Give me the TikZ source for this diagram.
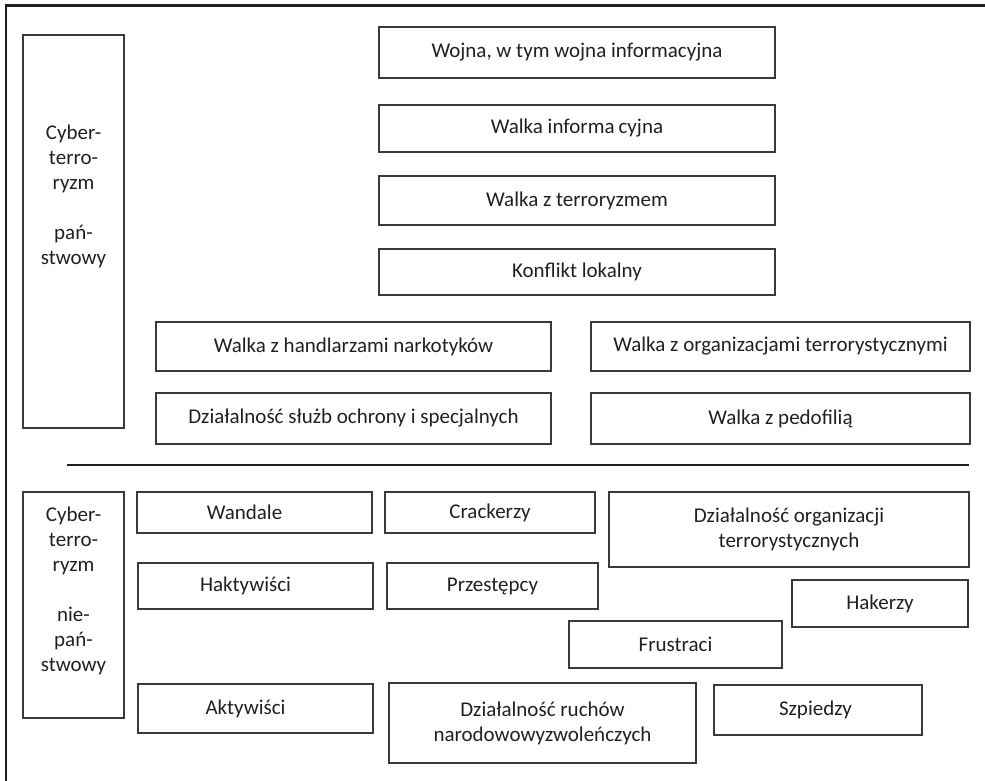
\documentclass[tikz,border=0pt]{standalone}
\usepackage{fontspec}
\setmainfont{Carlito}
\definecolor{ink}{HTML}{231F20}
\definecolor{boxgray}{HTML}{3A3A3A}
% \cellbox{name}{x1}{y1}{x2}{y2}{text}: framed box given by its corners
\newcommand\cellbox[6]{%
  \node[cell, minimum width={#4pt-#2pt}, minimum height={#5pt-#3pt}]
    (#1) at ({(#2+#4)/2},{(#3+#5)/2}) {#6};}
\begin{document}
\begin{tikzpicture}[x=1pt,y=-1pt,
  cell/.style={draw=boxgray, line width=1.3pt, inner sep=0pt, align=center,
    font=\fontsize{21}{25}\selectfont, text=ink},
  sidetext/.style={inner sep=0pt, align=center,
    font=\fontsize{21}{25}\selectfont, text=ink},
  frame/.style={draw=ink, line width=2.6pt},
  sepline/.style={draw=ink, line width=1.8pt}]
\useasboundingbox (0,0) rectangle (985,781);

% outer frame (top and left edges)
\coordinate (frameB) at (6,781);
\coordinate (frameC) at (6,5.5);
\coordinate (frameR) at (985,5.5);
\draw[frame] (frameB) -- (frameC) -- (frameR);

% state cyberterrorism
\cellbox{stateBox}{23}{35}{124}{428}{}
\node[sidetext] (stateText) at (73.5,196) {Cyber-\\terro-\\ryzm\\\mbox{}\\pań-\\stwowy};

\cellbox{war}{379}{27}{775}{78}{Wojna, w tym wojna informacyjna}
\cellbox{infowar}{379}{105}{775}{152}{Walka informa\kern4pt cyjna}
\cellbox{counterterr}{379}{176}{775}{225}{Walka z terroryzmem}
\cellbox{localconf}{379}{249}{775}{295}{Konflikt lokalny}
\cellbox{drugs}{156}{322}{551}{371}{Walka z handlarzami narkotyków}
\cellbox{terrorg}{591}{322}{970}{371}{Walka z organizacjami terrorystycznymi}
\cellbox{services}{156}{393}{551}{444}{Działalność służb ochrony i specjalnych}
\cellbox{pedo}{591}{393}{970}{444}{Walka z pedofilią}

% separator
\coordinate (sepL) at (67,465);
\coordinate (sepR) at (969,465);
\draw[sepline] (sepL) -- (sepR);

% non-state cyberterrorism
\cellbox{nonstateBox}{23}{492}{124}{718}{}
\node[sidetext] (nonstateText) at (73.5,590.5) {Cyber-\\terro-\\ryzm\\\mbox{}\\nie-\\pań-\\stwowy};

\cellbox{vandals}{137}{492}{372}{533}{\hspace*{-20pt}Wandale}
\cellbox{crackers}{385}{492}{595}{533}{Crackerzy}
\cellbox{terrorgact}{609}{492}{969}{567}{Działalność organizacji\\terrorystycznych}
\cellbox{hacktiv}{138}{563}{373}{609}{\hspace*{-20pt}Haktywiści}
\cellbox{criminals}{387}{563}{598}{609}{Przestępcy}
\cellbox{hackers}{792}{580}{968}{627}{Hakerzy}
\cellbox{frustrated}{569}{621}{782}{668}{Frustraci}
\cellbox{activists}{138}{684}{373}{733}{\hspace*{-20pt}Aktywiści}
\cellbox{liberation}{389}{683}{696}{763}{Działalność ruchów\\narodowowyzwoleńczych}
\cellbox{spies}{714}{685}{922}{735}{\hspace*{-5pt}Szpiedzy}
\end{tikzpicture}
\end{document}
